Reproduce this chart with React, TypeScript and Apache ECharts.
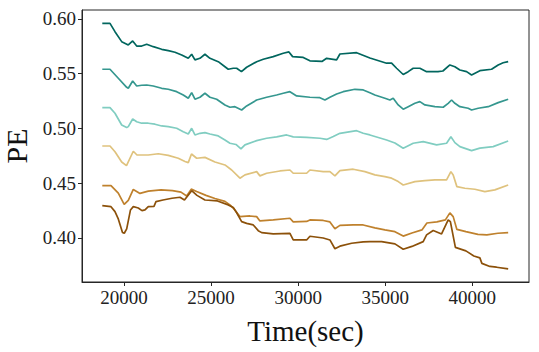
import React, { useEffect, useRef } from "react";
import * as echarts from "echarts";

const xTicks = [20000, 25000, 30000, 35000, 40000];
const yTicks = [0.4, 0.45, 0.5, 0.55, 0.6];
const seriesColors = ["#01665e", "#35978f", "#80cdc1", "#dfc27d", "#bf812d", "#8c510a"];

const s1: [number, number][] = [
  [18754, 0.596], [19196, 0.596], [19483, 0.5884], [19868, 0.5793], [20247, 0.5763], [20499, 0.5799],
  [20729, 0.5753], [21016, 0.5753], [21303, 0.5769], [21682, 0.5747], [22164, 0.5723], [22543, 0.5711],
  [22927, 0.5696], [23312, 0.5671], [23691, 0.5641], [23886, 0.5678], [24075, 0.5626], [24362, 0.5641],
  [24649, 0.5678], [24936, 0.5641], [25413, 0.561], [25797, 0.5564], [25987, 0.5541], [26274, 0.555],
  [26469, 0.555], [26744, 0.5519], [27043, 0.5559], [27617, 0.561], [27996, 0.5632], [28570, 0.5656],
  [29144, 0.5687], [29471, 0.5699], [29683, 0.5656], [30292, 0.5649], [30676, 0.5618], [31365, 0.5612],
  [31635, 0.5641], [32209, 0.5626], [32398, 0.568], [33357, 0.5692], [34120, 0.5644], [35079, 0.5596],
  [35366, 0.5596], [35653, 0.555], [36032, 0.5493], [36319, 0.5519], [36606, 0.555], [36990, 0.555],
  [37375, 0.5519], [38024, 0.5519], [38311, 0.5525], [38712, 0.558], [38999, 0.5564], [39286, 0.5534],
  [39671, 0.5519], [39958, 0.5489], [40434, 0.5528], [41106, 0.5541], [41485, 0.558], [41771, 0.56],
  [42059, 0.561],
];

const s2: [number, number][] = [
  [18754, 0.5541], [19196, 0.5541], [19673, 0.5459], [20155, 0.5376], [20247, 0.5367], [20499, 0.5434],
  [20729, 0.5388], [21016, 0.5395], [21303, 0.5397], [21682, 0.5388], [22164, 0.5367], [22543, 0.5358],
  [23025, 0.5336], [23404, 0.5306], [23691, 0.5276], [23886, 0.5327], [24075, 0.5267], [24362, 0.5285],
  [24649, 0.5322], [24936, 0.5285], [25321, 0.5267], [25797, 0.5215], [26084, 0.5194], [26371, 0.5199],
  [26756, 0.5169], [27043, 0.5206], [27617, 0.526], [28191, 0.5285], [28765, 0.5306], [29144, 0.5322],
  [29528, 0.5336], [29913, 0.5297], [30676, 0.5285], [31250, 0.5281], [31537, 0.526], [31824, 0.5285],
  [32209, 0.5315], [32588, 0.5336], [33259, 0.5358], [33736, 0.5352], [34120, 0.5327], [34407, 0.5306],
  [34981, 0.5276], [35268, 0.526], [35458, 0.5276], [35745, 0.5215], [36032, 0.5176], [36319, 0.5199],
  [36703, 0.523], [36990, 0.5245], [37277, 0.5215], [37851, 0.5199], [38328, 0.5194], [38615, 0.523],
  [38810, 0.526], [38999, 0.523], [39286, 0.5199], [39762, 0.5185], [39958, 0.5169], [40337, 0.5185],
  [40911, 0.5199], [41485, 0.5236], [42059, 0.5267],
];

const s3: [number, number][] = [
  [18754, 0.519], [19196, 0.519], [19483, 0.5139], [19868, 0.5032], [20155, 0.5008], [20247, 0.5017],
  [20499, 0.5087], [20729, 0.5062], [21016, 0.5048], [21395, 0.5048], [21779, 0.5039], [22164, 0.5023],
  [22543, 0.5017], [23025, 0.5002], [23404, 0.4971], [23691, 0.495], [23886, 0.5002], [24075, 0.4941],
  [24362, 0.4956], [24649, 0.4962], [24936, 0.495], [25413, 0.4932], [25797, 0.4895], [26084, 0.4865],
  [26429, 0.4854], [26716, 0.4813], [26945, 0.485], [27617, 0.4889], [28191, 0.4911], [28765, 0.4923],
  [29339, 0.4941], [29718, 0.4923], [30487, 0.4918], [31250, 0.4911], [31635, 0.49], [32018, 0.4927],
  [32398, 0.4956], [33357, 0.498], [33736, 0.4956], [34120, 0.4941], [35079, 0.4895], [35557, 0.4868],
  [36032, 0.482], [36606, 0.4865], [37180, 0.488], [37949, 0.485], [38523, 0.4865], [38770, 0.4925],
  [38999, 0.4871], [39286, 0.4834], [39958, 0.4798], [40434, 0.482], [41198, 0.4834], [42059, 0.4886],
];

const s4: [number, number][] = [
  [18754, 0.484], [19196, 0.484], [19483, 0.4788], [19868, 0.4694], [20144, 0.4661], [20534, 0.4792],
  [20746, 0.4758], [21395, 0.4758], [21969, 0.4769], [22543, 0.4754], [23117, 0.4728], [23501, 0.4699],
  [23691, 0.4688], [23875, 0.4767], [24173, 0.4728], [24649, 0.4736], [25223, 0.4694], [25797, 0.4667],
  [26182, 0.4621], [26658, 0.4546], [26945, 0.4576], [27617, 0.4606], [27806, 0.4567], [28191, 0.4591],
  [28954, 0.4612], [29528, 0.4621], [29718, 0.4591], [30487, 0.4591], [30676, 0.4621], [31440, 0.4606],
  [31824, 0.4606], [32111, 0.4567], [32398, 0.4615], [33162, 0.4628], [33833, 0.4606], [34407, 0.4576],
  [34981, 0.456], [35366, 0.4546], [35745, 0.4515], [36032, 0.4484], [36703, 0.4515], [37277, 0.4524],
  [37851, 0.453], [38523, 0.453], [38770, 0.4606], [38902, 0.4576], [39114, 0.4469], [39573, 0.4454],
  [40147, 0.4445], [40721, 0.4423], [41295, 0.4439], [42059, 0.4484],
];

const s5: [number, number][] = [
  [18754, 0.4478], [19254, 0.4478], [19673, 0.4409], [20011, 0.4306], [20247, 0.4343], [20534, 0.4443],
  [20918, 0.4407], [21395, 0.4428], [22124, 0.4439], [22784, 0.4432], [23272, 0.4419], [23599, 0.4384],
  [23863, 0.4446], [24173, 0.4425], [24707, 0.4389], [25223, 0.4361], [25797, 0.4334], [26084, 0.4302],
  [26314, 0.4265], [26658, 0.4195], [27232, 0.4201], [27617, 0.4195], [27806, 0.4156], [28570, 0.4165],
  [29528, 0.418], [29718, 0.4147], [30487, 0.4151], [30676, 0.4165], [31440, 0.416], [31824, 0.4147],
  [32111, 0.4085], [32398, 0.4115], [33162, 0.4119], [33736, 0.4119], [34407, 0.4092], [34981, 0.4074],
  [35557, 0.4058], [36032, 0.4017], [36532, 0.4046], [37106, 0.4074], [37393, 0.4137], [37967, 0.4147],
  [38455, 0.4165], [38712, 0.4229], [38902, 0.4195], [39114, 0.4078], [39631, 0.4058], [40320, 0.4033],
  [40836, 0.4028], [41468, 0.4043], [42059, 0.4049],
];

const s6: [number, number][] = [
  [18754, 0.4295], [19254, 0.4286], [19483, 0.4241], [19673, 0.4174], [19914, 0.4051], [20017, 0.4043],
  [20155, 0.4083], [20373, 0.4256], [20534, 0.4286], [20821, 0.4274], [21033, 0.425], [21205, 0.4256],
  [21395, 0.4286], [21722, 0.4288], [21837, 0.4332], [22239, 0.4347], [22756, 0.4363], [23214, 0.4372],
  [23473, 0.4347], [23886, 0.4432], [24190, 0.4389], [24649, 0.4347], [25367, 0.4338], [25987, 0.4302],
  [26274, 0.4279], [26429, 0.4242], [26756, 0.4149], [27043, 0.4133], [27422, 0.4119], [27709, 0.4067],
  [27904, 0.4049], [28570, 0.4037], [29528, 0.4042], [29718, 0.3982], [30487, 0.3982], [30676, 0.4016],
  [31440, 0.4], [31824, 0.3982], [32111, 0.3902], [32398, 0.3925], [33070, 0.3952], [33736, 0.3964],
  [34120, 0.3967], [34792, 0.3967], [35557, 0.3946], [36032, 0.3897], [36532, 0.3923], [37180, 0.3967],
  [37375, 0.4028], [37754, 0.4069], [38236, 0.4037], [38615, 0.4165], [38741, 0.4149], [39028, 0.3914],
  [39631, 0.3882], [40090, 0.3836], [40434, 0.3818], [40549, 0.3768], [41008, 0.374], [41393, 0.3733],
  [42059, 0.3718],
];

const allSeries = [s1, s2, s3, s4, s5, s6];

const FONT = "Liberation Serif";

export default function App() {
  const ref = useRef<HTMLDivElement>(null);
  useEffect(() => {
    if (!ref.current) return;
    const chart = echarts.init(ref.current, undefined, { renderer: "svg" });
    chart.setOption({
      animation: false,
      backgroundColor: "#ffffff",
      textStyle: { fontFamily: FONT },
      grid: {
        left: 82,
        top: 10,
        right: 10,
        bottom: 70,
        containLabel: false,
        outerBoundsMode: "none",
        show: true,
        borderColor: "#262626",
        borderWidth: 1,
        backgroundColor: "transparent",
      },
      xAxis: {
        type: "value",
        min: 17589,
        max: 43255,
        splitNumber: 5,
        name: "Time(sec)",
        nameLocation: "middle",
        nameGap: 34,
        nameTextStyle: { fontFamily: FONT, fontSize: 29, color: "#111" },
        axisLine: { show: true, lineStyle: { color: "#262626", width: 1 } },
        axisTick: { show: true, length: 4, lineStyle: { color: "#262626" }, customValues: xTicks },
        axisLabel: {
          fontFamily: FONT,
          fontSize: 19,
          color: "#222",
          margin: 6,
          showMinLabel: false,
          showMaxLabel: false,
          hideOverlap: false,
          formatter: (v: number) => (xTicks.indexOf(Math.round(v)) >= 0 ? String(Math.round(v)) : ""),
        },
        splitLine: { show: false },
      },
      yAxis: {
        type: "value",
        min: 0.3598,
        max: 0.6082,
        splitNumber: 5,
        name: "PE",
        nameLocation: "middle",
        nameGap: 48,
        nameTextStyle: { fontFamily: FONT, fontSize: 30, color: "#111" },
        axisLine: { show: true, lineStyle: { color: "#262626", width: 1 } },
        axisTick: { show: true, length: 4, lineStyle: { color: "#262626" }, customValues: yTicks },
        axisLabel: {
          fontFamily: FONT,
          fontSize: 19,
          color: "#222",
          margin: 6,
          showMinLabel: false,
          showMaxLabel: false,
          hideOverlap: false,
          formatter: (v: number) =>
            yTicks.some((t) => Math.abs(t - v) < 1e-6) ? v.toFixed(2) : "",
        },
        splitLine: { show: false },
      },
      series: allSeries.map((d, i) => ({
        type: "line",
        data: d,
        showSymbol: false,
        symbol: "none",
        lineStyle: { color: seriesColors[i], width: 1.7 },
        itemStyle: { color: seriesColors[i] },
        z: 2 + i,
      })),
    });
    return () => chart.dispose();
  }, []);
  return <div ref={ref} style={{ width: 539, height: 352, position: "absolute", left: 0, top: 0 }} />;
}
